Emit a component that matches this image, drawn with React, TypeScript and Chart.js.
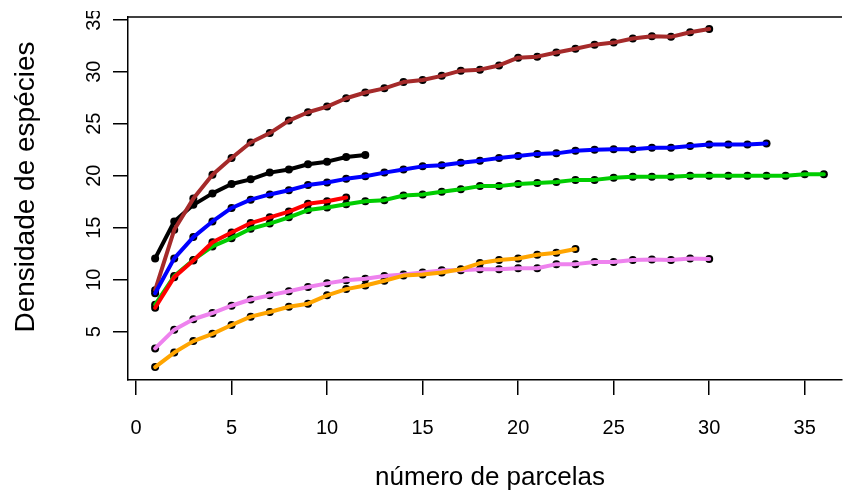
import { useEffect, useRef } from "react";
import { Chart, registerables } from "chart.js";

Chart.register(...registerables);

const xTicks = [0, 5, 10, 15, 20, 25, 30, 35];
const yTicks = [5, 10, 15, 20, 25, 30, 35];
const xTitle = "número de parcelas";
const yTitle = "Densidade de espécies";

const brown = [9.0, 14.8, 17.8, 20.1, 21.7, 23.2, 24.1, 25.3, 26.1, 26.65, 27.45, 28.0, 28.4, 29.0, 29.2, 29.6, 30.1, 30.2, 30.6, 31.35, 31.45, 31.85, 32.2, 32.6, 32.8, 33.2, 33.4, 33.35, 33.8, 34.1];
const black = [12.05, 15.6, 17.2, 18.3, 19.2, 19.65, 20.3, 20.6, 21.1, 21.35, 21.8, 22.0];
const blue = [8.7, 12.05, 14.1, 15.6, 16.9, 17.7, 18.2, 18.6, 19.1, 19.35, 19.7, 19.95, 20.3, 20.6, 20.9, 21.0, 21.25, 21.45, 21.7, 21.9, 22.1, 22.15, 22.4, 22.5, 22.55, 22.55, 22.7, 22.7, 22.85, 23.0, 23.0, 23.0, 23.1];
const green = [7.6, 10.35, 11.9, 13.2, 14.0, 14.9, 15.4, 16.0, 16.7, 16.95, 17.25, 17.55, 17.65, 18.1, 18.2, 18.45, 18.7, 19.0, 19.0, 19.2, 19.3, 19.4, 19.6, 19.6, 19.8, 19.9, 19.9, 19.9, 20.0, 20.0, 20.0, 20.0, 20.0, 20.0, 20.15, 20.15];
const red = [7.3, 10.25, 11.85, 13.6, 14.55, 15.45, 16.0, 16.55, 17.3, 17.55, 17.9];
const violet = [3.4, 5.2, 6.2, 6.8, 7.5, 8.1, 8.5, 8.9, 9.3, 9.65, 9.95, 10.1, 10.35, 10.5, 10.7, 10.9, 10.9, 11.0, 11.0, 11.1, 11.1, 11.5, 11.5, 11.7, 11.7, 11.9, 11.95, 11.9, 12.05, 12.0];
const orange = [1.6, 3.0, 4.1, 4.8, 5.65, 6.45, 6.9, 7.4, 7.7, 8.5, 9.1, 9.45, 9.9, 10.4, 10.5, 10.7, 11.0, 11.6, 11.9, 12.05, 12.4, 12.6, 12.95];

// listed top-most first
const series = [
  { color: "#FF0000", values: red },
  { color: "#FFA500", values: orange },
  { color: "#0000FF", values: blue },
  { color: "#A52A2A", values: brown },
  { color: "#000000", values: black },
  { color: "#00CD00", values: green },
  { color: "#EE82EE", values: violet },
];

const FONT = '"Liberation Sans", Arial, Helvetica, sans-serif';

const rPlugin = {
  id: "rstyle",
  afterDraw(chart: any) {
    const { ctx, chartArea, scales } = chart;
    const xs = scales.x;
    const ys = scales.y;
    ctx.save();
    ctx.strokeStyle = "#000";
    ctx.lineWidth = 1.5;
    ctx.beginPath();
    ctx.moveTo(chartArea.left - 0.75, chartArea.top);
    ctx.lineTo(chartArea.right, chartArea.top);
    ctx.stroke();

    ctx.fillStyle = "#000";
    ctx.font = `20px ${FONT}`;
    ctx.textAlign = "center";
    ctx.textBaseline = "alphabetic";
    xTicks.forEach((v) => ctx.fillText(String(v), xs.getPixelForValue(v), 434));

    ctx.save();
    ctx.beginPath();
    ctx.rect(0, 11, chartArea.left, chart.height);
    ctx.clip();
    yTicks.forEach((v) => {
      const py = ys.getPixelForValue(v);
      ctx.save();
      ctx.translate(100, py);
      ctx.rotate(-Math.PI / 2);
      ctx.fillText(String(v), 0, 0);
      ctx.restore();
    });
    ctx.restore();

    ctx.font = `26px ${FONT}`;
    ctx.fillText(xTitle, 490, 485);

    ctx.font = `28px ${FONT}`;
    ctx.save();
    ctx.translate(34, 187);
    ctx.rotate(-Math.PI / 2);
    ctx.fillText(yTitle, 0, 0);
    ctx.restore();
    ctx.restore();
  },
};

export default function App() {
  const ref = useRef<HTMLCanvasElement | null>(null);
  useEffect(() => {
    if (!ref.current) return;
    const datasets: any[] = [];
    series.forEach((s) => {
      datasets.push({
        data: s.values.map((v, i) => ({ x: i + 1, y: v })),
        showLine: true,
        borderColor: s.color,
        borderWidth: 4,
        borderCapStyle: "round",
        borderJoinStyle: "round",
        pointRadius: 0,
        tension: 0,
        order: 1,
      });
    });
    series.forEach((s) => {
      datasets.push({
        data: s.values.map((v, i) => ({ x: i + 1, y: v })),
        showLine: false,
        pointRadius: 4,
        pointBackgroundColor: "#000",
        pointBorderWidth: 0,
        order: 2,
      });
    });
    const chart = new Chart(ref.current, {
      type: "scatter",
      data: { datasets },
      options: {
        animation: false,
        responsive: false,
        devicePixelRatio: 1,
        layout: { padding: { top: 17, left: 0, right: 0, bottom: 0 } },
        plugins: { legend: { display: false }, tooltip: { enabled: false } },
        scales: {
          x: {
            type: "linear",
            min: -0.42,
            max: 36.95,
            afterBuildTicks: (scale: any) => {
              scale.ticks = xTicks.map((value) => ({ value }));
            },
            afterFit: (scale: any) => {
              scale.height = 112;
            },
            ticks: { display: false },
            grid: { display: true, drawOnChartArea: false, drawTicks: true, tickLength: 15, color: "#000", lineWidth: 1.5 },
            border: { display: true, color: "#000", width: 1.5 },
          },
          y: {
            type: "linear",
            min: 0.36,
            max: 35.26,
            afterBuildTicks: (scale: any) => {
              scale.ticks = yTicks.map((value) => ({ value }));
            },
            afterFit: (scale: any) => {
              scale.width = 128;
            },
            ticks: { display: false },
            grid: { display: true, drawOnChartArea: false, drawTicks: true, tickLength: 15, color: "#000", lineWidth: 1.5 },
            border: { display: true, color: "#000", width: 1.5 },
          },
        },
      },
      plugins: [rPlugin],
    });
    return () => chart.destroy();
  }, []);
  return (
    <div style={{ position: "fixed", left: 0, top: 0, width: 846, height: 492, overflow: "hidden", background: "#fff" }}>
      <canvas ref={ref} width={846} height={492} style={{ width: 846, height: 492, display: "block" }} />
    </div>
  );
}
